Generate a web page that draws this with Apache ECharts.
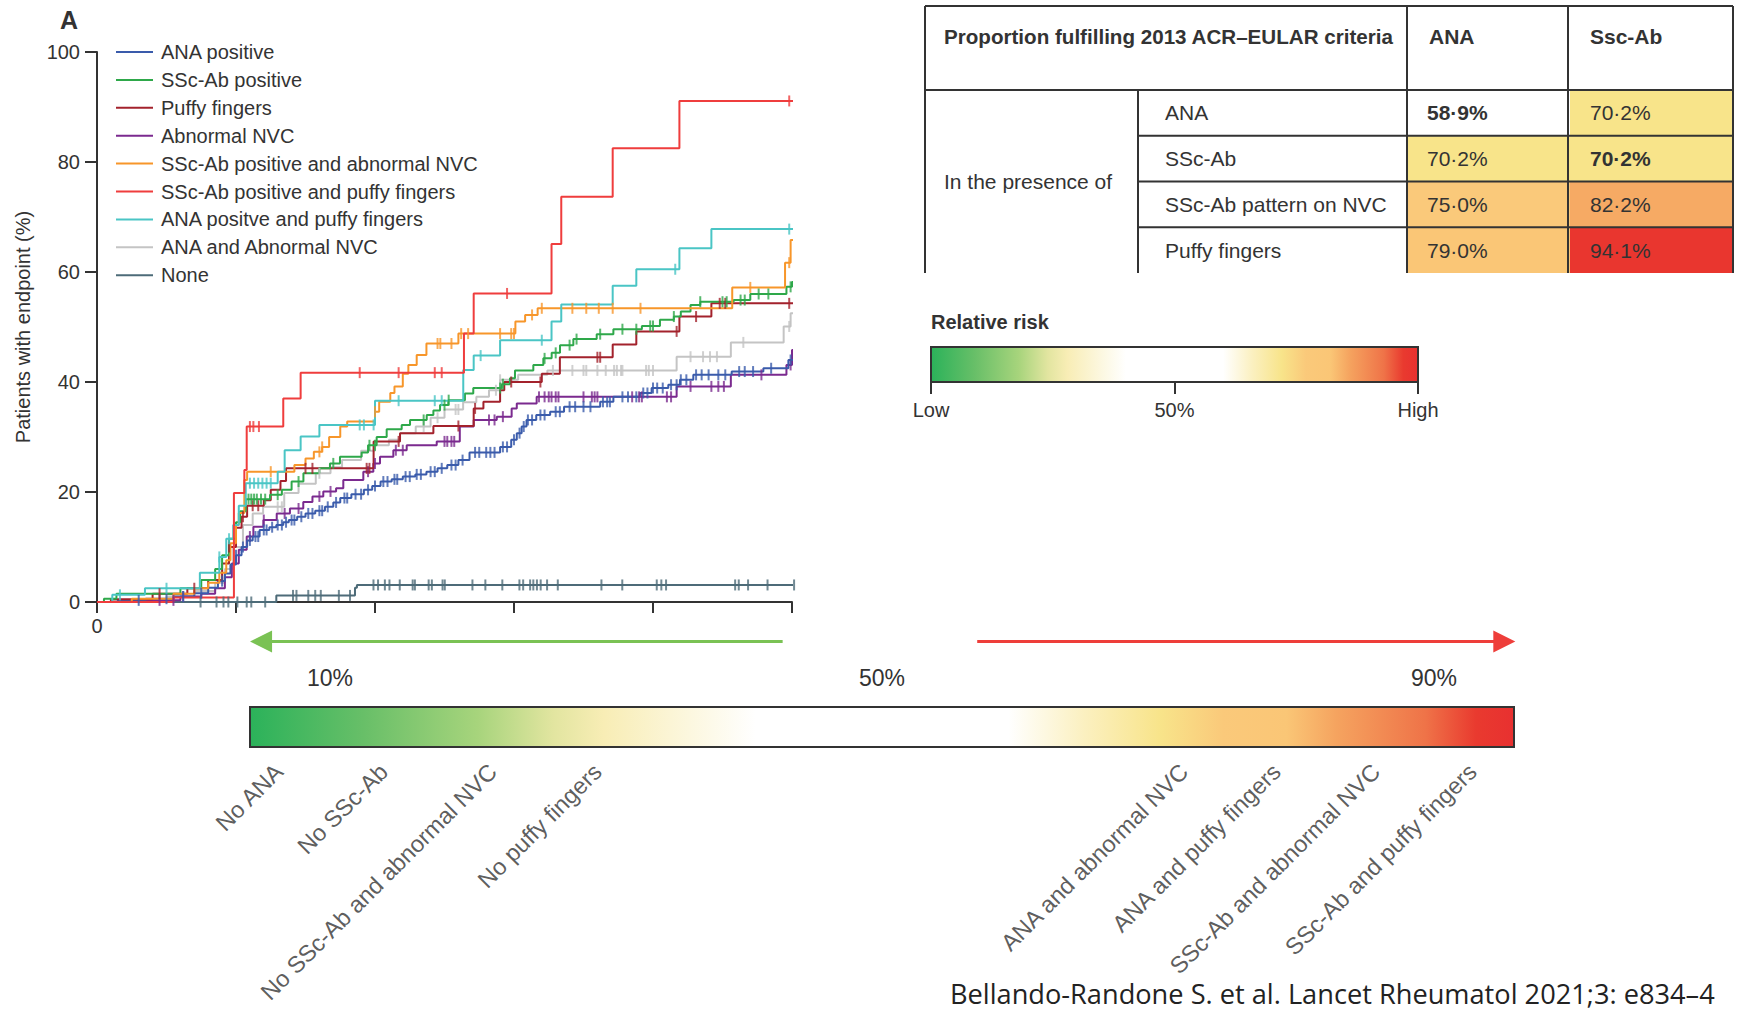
<!DOCTYPE html>
<html><head><meta charset="utf-8">
<script src="https://cdn.jsdelivr.net/npm/echarts@6/dist/echarts.min.js"></script>
<style>html,body{margin:0;padding:0;background:#fff}#c{width:1738px;height:1010px}</style>
</head><body><div id="c"></div>
<script>
// ---------- Kaplan–Meier data (time in years, % with endpoint) ----------
const kmNames = ['ANA positive','SSc-Ab positive','Puffy fingers','Abnormal NVC','SSc-Ab positive and abnormal NVC','SSc-Ab positive and puffy fingers','ANA positve and puffy fingers','ANA and Abnormal NVC','None'];
const xTickLabels = ['0','','','','',''];
const anaPos = [[0,0],[0.15,0.3],[0.35,0.6],[0.55,1.0],[0.7,1.6],[0.8,2.6],[0.87,3.8],[0.92,5.2],[0.96,6.8],[1.0,8.5],[1.04,10.0],[1.08,11.2],[1.12,11.9],[1.17,13.1],[1.24,13.6],[1.29,14.0],[1.34,14.5],[1.38,14.9],[1.44,15.5],[1.5,16.1],[1.57,16.6],[1.64,17.3],[1.7,18.1],[1.75,18.9],[1.83,19.6],[1.92,20.4],[1.98,21.1],[2.04,21.9],[2.12,22.3],[2.2,22.8],[2.29,23.2],[2.37,23.7],[2.45,24.3],[2.52,24.9],[2.6,25.8],[2.68,27.2],[2.9,28.2],[2.98,29.5],[3.02,30.7],[3.055,31.9],[3.09,33.1],[3.16,34.0],[3.26,34.6],[3.36,35.5],[3.62,36.4],[3.715,37.3],[3.906,38.0],[3.99,38.9],[4.11,39.5],[4.194,40.4],[4.29,41.3],[4.566,41.9],[4.794,42.5],[4.974,44.0],[5.04,44.0]];
const sscPos = [[0,0],[0.05,0.6],[0.14,1.5],[0.6,2.5],[0.75,4.0],[0.85,6.0],[0.9,8.5],[0.95,11.5],[1.0,14.5],[1.03,16.5],[1.07,18.7],[1.245,19.5],[1.33,20.4],[1.4,21.9],[1.485,23.4],[1.6,24.3],[1.676,25.2],[1.748,26.4],[1.904,27.2],[1.95,28.5],[2.012,30.0],[2.084,31.4],[2.192,32.2],[2.252,33.1],[2.372,34.0],[2.42,34.8],[2.468,35.8],[2.528,36.7],[2.647,37.9],[2.707,38.9],[2.911,39.6],[2.971,40.7],[3.007,42.1],[3.139,43.1],[3.211,44.3],[3.271,45.3],[3.331,46.7],[3.427,47.8],[3.595,48.7],[3.715,49.6],[3.92,50.2],[4.05,51.3],[4.15,51.9],[4.2,52.8],[4.27,54.0],[4.34,54.6],[4.58,54.9],[4.7,56.0],[4.96,57.3],[5.0,58.2],[5.05,58.2]];
const puffy = [[0,0],[0.1,0.5],[0.4,1.5],[0.65,2.5],[0.8,4.0],[0.9,7.0],[0.95,10.0],[1.0,13.5],[1.04,15.5],[1.08,17.5],[1.2,18.5],[1.25,20.4],[1.32,22.0],[1.36,24.3],[1.99,29.2],[2.18,30.7],[2.42,32.0],[2.71,35.2],[2.78,36.4],[2.9,38.5],[2.93,40.0],[3.2,41.5],[3.33,44.5],[3.71,46.8],[3.88,49.2],[4.19,51.9],[4.42,54.3],[5.05,54.3]];
const abnNvc = [[0,0],[0.3,0.3],[0.6,1.0],[0.75,1.5],[0.85,2.5],[0.92,4.5],[0.97,7.0],[1.02,9.5],[1.077,11.9],[1.125,13.7],[1.197,14.9],[1.293,16.1],[1.388,17.0],[1.484,18.2],[1.55,19.2],[1.628,20.1],[1.72,20.7],[1.772,22.2],[1.916,23.7],[1.988,25.2],[2.036,26.4],[2.132,27.6],[2.228,28.5],[2.444,29.2],[2.61,31.9],[2.71,33.1],[2.876,33.7],[2.983,35.2],[3.02,36.1],[3.163,37.3],[4.17,39.2],[4.56,41.3],[4.96,43.1],[5.0,45.8],[5.05,45.8]];
const sscNvc = [[0,0],[0.25,0.6],[0.55,1.5],[0.7,2.5],[0.8,3.5],[0.88,5.3],[0.93,7.6],[0.96,10.7],[1.0,14.0],[1.02,16.2],[1.06,22.2],[1.08,23.7],[1.42,24.9],[1.5,26.1],[1.56,27.3],[1.62,28.2],[1.67,30.0],[1.75,31.9],[1.8,32.8],[2.0,34.6],[2.03,36.4],[2.11,38.0],[2.14,39.2],[2.2,41.5],[2.24,43.1],[2.3,44.9],[2.37,47.0],[2.6,48.8],[3.01,51.0],[3.08,52.2],[3.17,53.4],[4.57,57.2],[4.95,61.7],[4.99,65.8],[5.05,65.8]];
const sscPuffy = [[0,0],[0.55,0.8],[0.985,19.8],[1.06,24.0],[1.077,31.9],[1.34,37.0],[1.465,41.7],[2.64,48.8],[2.71,56.1],[3.27,65.1],[3.34,73.7],[3.71,82.5],[4.19,91.1],[5.05,91.1]];
const anaPuffy = [[0,0],[0.11,1.3],[0.345,2.5],[0.74,5.3],[0.88,8.2],[0.93,11.5],[0.98,14.0],[1.02,17.5],[1.07,21.6],[1.3,23.7],[1.35,27.6],[1.465,30.1],[1.6,32.2],[2.0,36.6],[2.635,42.2],[2.71,44.8],[2.9,47.6],[3.27,51.0],[3.34,54.1],[3.71,57.5],[3.88,60.5],[4.19,64.3],[4.42,67.8],[5.05,67.8]];
const anaNvc = [[0,0],[0.1,0.3],[0.5,1.0],[0.7,2.0],[0.85,3.5],[0.92,6.0],[0.98,10.0],[1.05,14.0],[1.12,16.1],[1.195,17.3],[1.347,19.8],[1.45,21.5],[1.574,23.4],[1.68,24.5],[1.763,25.8],[1.9,27.5],[2.0,28.5],[2.1,29.5],[2.18,30.7],[2.293,31.9],[2.4,33.5],[2.5,35.0],[2.634,36.3],[2.729,37.3],[2.82,38.5],[2.9,40.4],[3.03,41.3],[3.24,42.1],[4.17,44.6],[4.56,47.2],[4.94,50.1],[4.99,52.5],[5.05,52.5]];
const noneCurve = [[0,0],[1.29,1.2],[1.856,2.6],[1.87,3.1],[5.03,3.1]];

// censoring times
const anaPosCens = [0.3,0.5,0.62,0.75,0.9,1.0,1.05,1.1,1.14,1.16,1.2,1.22,1.26,1.3,1.33,1.36,1.4,1.42,1.47,1.52,1.55,1.6,1.62,1.66,1.72,1.78,1.8,1.86,1.9,1.95,2.0,2.06,2.09,2.14,2.16,2.22,2.25,2.3,2.33,2.4,2.43,2.48,2.55,2.58,2.63,2.72,2.75,2.8,2.83,2.86,2.92,2.95,3.0,3.04,3.07,3.1,3.13,3.19,3.22,3.3,3.33,3.4,3.44,3.5,3.55,3.64,3.67,3.69,3.78,3.82,3.88,3.93,3.96,4.0,4.03,4.07,4.13,4.17,4.2,4.24,4.31,4.35,4.4,4.47,4.52,4.62,4.66,4.72,4.85,4.99];
const sscPosCens = [1.09,1.11,1.13,1.15,1.18,1.21,1.3,1.45,1.7,1.96,2.0,2.35,2.5,2.53,2.9,2.92,3.22,3.3,3.4,3.45,3.62,3.78,3.88,3.98,4.0,4.15,4.34,4.5,4.53,4.63,4.66,4.76,4.83,4.99];
const puffyCens = [0.45,0.7,0.95,1.05,1.12,1.16,1.5,1.55,1.94,1.96,2.17,2.6,2.72,2.98,3.19,3.6,3.62,4.17,4.31,4.48,4.52,4.98];
const abnNvcCens = [0.45,0.55,0.62,1.1,1.2,1.35,1.45,1.6,1.68,1.95,2.0,2.15,2.2,2.5,2.52,2.55,2.57,2.82,2.86,2.92,3.18,3.22,3.25,3.27,3.3,3.32,3.5,3.56,3.58,3.6,3.85,3.9,3.92,4.1,4.13,4.27,4.42,4.47,4.51,4.78,4.99];
const sscNvcCens = [1.25,1.6,1.62,2.0,2.45,2.47,2.55,2.62,2.67,2.9,2.98,3.0,3.13,3.2,3.42,3.52,3.61,3.71,3.91,4.7,4.98];
const sscPuffyCens = [1.1,1.125,1.165,1.89,2.17,2.43,2.48,2.95,4.98];
const anaPuffyCens = [0.165,0.5,0.88,0.95,1.1,1.13,1.16,1.19,1.22,1.25,1.89,1.92,1.99,2.17,2.43,2.48,2.76,3.2,4.16,4.98];
const anaNvcCens = [1.3,1.33,1.6,2.35,2.45,2.58,2.6,2.87,2.9,3.28,3.42,3.5,3.52,3.6,3.66,3.72,3.74,3.77,3.78,3.95,3.97,4.0,4.27,4.36,4.41,4.46,4.65,4.98];
const noneCens = [0.745,0.86,0.91,0.945,1.01,1.077,1.11,1.21,1.41,1.435,1.52,1.57,1.61,1.74,1.82,1.989,2.022,2.071,2.104,2.178,2.271,2.287,2.386,2.409,2.486,2.502,2.701,2.794,2.916,3.039,3.066,3.116,3.139,3.165,3.192,3.238,3.315,3.629,3.779,4.027,4.06,4.094,4.591,4.617,4.684,4.824,5.015];

// ---------- Table data ----------
const tableTitle = 'Proportion fulfilling 2013 ACR–EULAR criteria';
const tableCols = ['ANA','Ssc-Ab'];
const tableRowGroup = 'In the presence of';
const tableRows = ['ANA','SSc-Ab','SSc-Ab pattern on NVC','Puffy fingers'];
const tableVals = [[58.9,70.2],[70.2,70.2],[75.0,82.2],[79.0,94.1]];

// ---------- Relative-risk scales ----------
const rrTitle = 'Relative risk';
const rrTopTicks = [0,50,100];
const rrTopLabels = ['Low','50%','High'];
const rrBarRange = [4.2,95.8];
const rrBottomTicks = [10,50,90];
const lowRiskLabels = ['No ANA','No SSc-Ab','No SSc-Ab and abnormal NVC','No puffy fingers'];
const lowRiskPos = [6.3,13.9,21.8,29.4];
const highRiskLabels = ['ANA and abnormal NVC','ANA and puffy fingers','SSc-Ab and abnormal NVC','SSc-Ab and puffy fingers'];
const highRiskPos = [71.9,78.6,85.8,92.8];
const arrowLow = [42.8,5.0];
const arrowHigh = [56.9,95.1];
const citation = 'Bellando-Randone S. et al. Lancet Rheumatol 2021;3: e834–4';

// ---------- styles ----------
const FONT = "'Liberation Sans', Arial, sans-serif";
const TXT = '#333';
const kmColors = ['#3a5bab','#2ea84a','#a3222c','#7b2a8f','#f7962a','#ef3d3d','#4ac5c5','#c4c4c4','#4d6b78'];
const kmCurves = [anaPos,sscPos,puffy,abnNvc,sscNvc,sscPuffy,anaPuffy,anaNvc,noneCurve];
const kmCens = [anaPosCens,sscPosCens,puffyCens,abnNvcCens,sscNvcCens,sscPuffyCens,anaPuffyCens,anaNvcCens,noneCens];
const drawOrder = [8,7,3,0,2,1,4,6,5];

const riskStops = [[0,'#2bb25a'],[0.09,'#68bf68'],[0.18,'#a7d47c'],[0.24,'#e2e5a0'],[0.28,'#f8edb5'],[0.4,'#ffffff'],[0.6,'#ffffff'],[0.66,'#fbf0c0'],[0.72,'#f8e48a'],[0.77,'#fac97a'],[0.82,'#fac676'],[0.86,'#f5a35f'],[0.93,'#ef7348'],[0.97,'#e93a2f'],[1,'#e83030']];
function hex2rgb(h){return [1,3,5].map(i=>parseInt(h.substr(i,2),16));}
function riskColor(v){
  const f = Math.max(0, Math.min(1, (v - rrBarRange[0]) / (rrBarRange[1] - rrBarRange[0])));
  for (let i=1;i<riskStops.length;i++){
    if (f <= riskStops[i][0]){
      const a = riskStops[i-1], b = riskStops[i];
      const t = (f - a[0]) / (b[0] - a[0] || 1);
      const ca = hex2rgb(a[1]), cb = hex2rgb(b[1]);
      const c = ca.map((x,k)=>Math.round(x + (cb[k]-x)*t));
      return 'rgb(' + c.join(',') + ')';
    }
  }
  return riskStops[riskStops.length-1][1];
}
function gradient(){
  return new echarts.graphic.LinearGradient(0,0,1,0, riskStops.map(s=>({offset:s[0], color:s[1]})));
}
function stepVal(curve, t){
  let v = curve[0][1];
  for (const p of curve){ if (p[0] <= t + 1e-9) v = p[1]; else break; }
  return v;
}
function fmtPct(v){ return v.toFixed(1).replace('.', '·') + '%'; }

// ---------- table geometry ----------
const T = {x0:925, x1:1138, x2:1407, x3:1568, x4:1733, y0:6, y1:90, y2:273};

const chart = echarts.init(document.getElementById('c'), null, {renderer:'svg', width:1738, height:1010});

const series = [];
drawOrder.forEach(i => {
  series.push({
    name: kmNames[i], type:'line', xAxisIndex:0, yAxisIndex:0, step:'end',
    data: kmCurves[i], showSymbol:false, symbol:'none', clip:false,
    lineStyle:{width:2, color:kmColors[i]}, itemStyle:{color:kmColors[i]}, z:3
  });
});
drawOrder.forEach(i => {
  series.push({
    name: kmNames[i] + ' censored', type:'scatter', xAxisIndex:0, yAxisIndex:0, clip:false,
    data: kmCens[i].map(t => [t, stepVal(kmCurves[i], t)]),
    symbol:'rect', symbolSize:[2,11], itemStyle:{color:kmColors[i]}, silent:true, z:4
  });
});
// top relative-risk bar
series.push({
  type:'custom', xAxisIndex:1, yAxisIndex:1, data:[[0,100]], silent:true,
  renderItem:(p, api) => {
    const a = api.coord([api.value(0), 1]), b = api.coord([api.value(1), 0]);
    return {type:'rect', shape:{x:a[0], y:a[1], width:b[0]-a[0], height:b[1]-a[1]}, style:{fill:gradient(), stroke:'#333', lineWidth:2}};
  }
});
// bottom relative-risk bar
series.push({
  type:'custom', xAxisIndex:2, yAxisIndex:2, data:[rrBarRange], silent:true,
  renderItem:(p, api) => {
    const a = api.coord([api.value(0), 1]), b = api.coord([api.value(1), 0]);
    return {type:'rect', shape:{x:a[0], y:a[1], width:b[0]-a[0], height:b[1]-a[1]}, style:{fill:gradient(), stroke:'#333', lineWidth:2}};
  }
});
// arrows
series.push({
  type:'lines', coordinateSystem:'cartesian2d', xAxisIndex:2, yAxisIndex:2, clip:false, silent:true,
  symbol:['none','triangle'], symbolSize:22, lineStyle:{width:3, opacity:1},
  data:[
    {coords:[[arrowLow[0],2.64],[arrowLow[1],2.64]], lineStyle:{color:'#7ac254'}},
    {coords:[[arrowHigh[0],2.64],[arrowHigh[1],2.64]], lineStyle:{color:'#ee3e3a'}}
  ]
});
// rotated category labels along the risk scale
series.push({
  type:'scatter', xAxisIndex:2, yAxisIndex:2, clip:false, silent:true, symbolSize:0,
  data: lowRiskLabels.map((n,i)=>({name:n, value:[lowRiskPos[i], -0.52]}))
        .concat(highRiskLabels.map((n,i)=>({name:n, value:[highRiskPos[i], -0.52]}))),
  label:{show:true, formatter:'{b}', position:'inside', rotate:45, align:'right', verticalAlign:'middle', fontSize:23.5, color:TXT, fontFamily:FONT}
});
// table value cells
const cellData = [];
tableVals.forEach((row, ri) => row.forEach((v, ci) => cellData.push([ci, ri, v])));
series.push({
  type:'custom', xAxisIndex:3, yAxisIndex:3, data:cellData, silent:true, z:2,
  renderItem:(p, api) => {
    const ci = api.value(0), ri = api.value(1), v = api.value(2);
    const c = api.coord([ci, ri]), s = api.size([1,1]);
    return {type:'group', children:[
      {type:'rect', shape:{x:c[0]-s[0]/2, y:c[1]-s[1]/2, width:s[0], height:s[1]}, style:{fill:riskColor(v)}},
      {type:'text', x:c[0]-s[0]/2+20, y:c[1], style:{text:fmtPct(v), fontSize:21, fontWeight:(ci===ri?'bold':'normal'), fontFamily:FONT, fill:TXT, align:'left', verticalAlign:'middle'}}
    ]};
  }
});

const L = (x1,y1,x2,y2) => ({type:'line', z:100, silent:true, shape:{x1,y1,x2,y2}, style:{stroke:'#333', lineWidth:2}});
const rowH = (T.y2 - T.y1) / tableRows.length;
const graphic = [
  L(T.x0,T.y0,T.x4,T.y0), L(T.x0,T.y1,T.x4,T.y1),
  ...tableRows.slice(1).map((r,i)=>L(T.x1,T.y1+rowH*(i+1),T.x4,T.y1+rowH*(i+1))),
  L(T.x0,T.y0,T.x0,T.y2), L(T.x1,T.y1,T.x1,T.y2), L(T.x2,T.y0,T.x2,T.y2), L(T.x3,T.y0,T.x3,T.y2), L(T.x4,T.y0,T.x4,T.y2),
  {type:'text', z:100, x:944, y:36, style:{text:tableTitle, fontSize:20.6, fontWeight:'bold', fontFamily:FONT, fill:TXT, verticalAlign:'middle'}},
  ...tableCols.map((c,i)=>({type:'text', z:100, x:(i===0?T.x2:T.x3)+22, y:36, style:{text:c, fontSize:21, fontWeight:'bold', fontFamily:FONT, fill:TXT, verticalAlign:'middle'}})),
  {type:'text', z:100, x:944, y:(T.y1+T.y2)/2, style:{text:tableRowGroup, fontSize:21, fontFamily:FONT, fill:TXT, verticalAlign:'middle'}},
  {type:'text', z:100, x:931, y:322, style:{text:rrTitle, fontSize:20, fontWeight:'bold', fontFamily:FONT, fill:TXT, verticalAlign:'middle'}},
  {type:'text', z:100, x:60, y:20, style:{text:'A', fontSize:25, fontWeight:'bold', fontFamily:FONT, fill:TXT, verticalAlign:'middle'}},
  {type:'text', z:100, x:950, y:993, style:{text:citation, fontSize:27.2, fontFamily:"'Open Sans', sans-serif", fill:'#222', verticalAlign:'middle'}}
];

const axisLineS = {show:true, lineStyle:{color:'#333', width:2}};
const option = {
  animation:false,
  backgroundColor:'#fff',
  textStyle:{fontFamily:FONT},
  legend:{
    data:kmNames, orient:'vertical', left:116, top:42, padding:0, itemWidth:37, itemHeight:2, itemGap:7.9, icon:'rect',
    textStyle:{fontSize:20, color:TXT, fontFamily:FONT, lineHeight:20, padding:[0,0,0,3]}, selectedMode:false
  },
  grid:[
    {left:97, top:52, width:695, height:550, outerBoundsMode:'none'},
    {left:931, top:347, width:487, height:35, outerBoundsMode:'none'},
    {left:250, top:707, width:1264, height:40, outerBoundsMode:'none'},
    {left:T.x2, top:T.y1, width:T.x4-T.x2, height:T.y2-T.y1, outerBoundsMode:'none'}
  ],
  xAxis:[
    {gridIndex:0, type:'value', min:0, max:5, interval:1, axisLine:axisLineS,
     axisTick:{show:true, length:11, lineStyle:{color:'#333', width:2}},
     axisLabel:{formatter:(v)=>xTickLabels[Math.round(v)] || '', fontSize:20, color:TXT, margin:14}, splitLine:{show:false}},
    {gridIndex:1, type:'value', min:0, max:100, axisLine:{show:false},
     axisTick:{show:true, customValues:rrTopTicks, length:12, lineStyle:{color:'#333', width:2}},
     axisLabel:{customValues:rrTopTicks, formatter:(v)=>rrTopLabels[rrTopTicks.indexOf(v)], fontSize:20, color:TXT, margin:18}, splitLine:{show:false}},
    {gridIndex:2, type:'value', position:'top', min:rrBarRange[0], max:rrBarRange[1], axisLine:{show:false},
     axisTick:{show:true, customValues:rrBottomTicks, length:15, lineStyle:{color:'#333', width:2}},
     axisLabel:{customValues:rrBottomTicks, formatter:(v)=>v+'%', fontSize:23, color:TXT, margin:18}, splitLine:{show:false}},
    {gridIndex:3, type:'category', data:tableCols, show:false}
  ],
  yAxis:[
    {gridIndex:0, type:'value', min:0, max:100, interval:20, name:'Patients with endpoint (%)', nameLocation:'middle', nameGap:64,
     nameTextStyle:{fontSize:20, color:TXT}, axisLine:axisLineS,
     axisTick:{show:true, length:12, lineStyle:{color:'#333', width:2}},
     axisLabel:{fontSize:20, color:TXT, margin:17}, splitLine:{show:false}},
    {gridIndex:1, type:'value', min:0, max:1, show:false},
    {gridIndex:2, type:'value', min:0, max:1, show:false},
    {gridIndex:3, type:'category', data:tableRows, inverse:true, axisLine:{show:false}, axisTick:{show:false},
     axisLabel:{align:'left', margin:T.x2-1165, fontSize:21, color:TXT}}
  ],
  series:series,
  graphic:graphic
};
chart.setOption(option);
</script></body></html>
